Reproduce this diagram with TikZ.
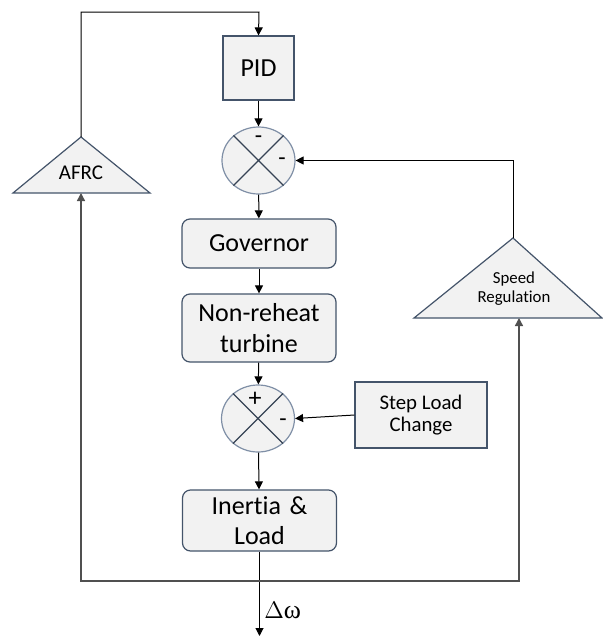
\documentclass[tikz,border=0pt]{standalone}
\usepackage{fontspec}
\setmainfont{Carlito}[Ligatures=NoCommon]
\newfontfamily\greekfont{Liberation Serif}
\usetikzlibrary{arrows.meta,shapes.geometric,calc}
\definecolor{boxfill}{HTML}{F2F2F2}
\definecolor{boxline}{HTML}{44546A}
\definecolor{circline}{HTML}{7F8FA6}
\definecolor{fbline}{HTML}{505050}
\tikzset{
  blk/.style={draw=boxline, fill=boxfill, line width=0.6pt, align=center, inner sep=1pt, font=\fontsize{13}{15.5}\selectfont},
  sqbox/.style={blk},
  rbox/.style={blk, rounded corners=4pt, minimum width=77pt},
  sumnode/.style={draw=circline, fill=boxfill, line width=0.6pt, ellipse, minimum width=36.5pt, minimum height=33.5pt, inner sep=0pt},
  tri/.style={draw=boxline, fill=boxfill, line width=0.6pt},
  arr/.style={-{Triangle[length=4pt,width=4pt]}, line width=0.5pt, draw=black},
  fb/.style={line width=0.7pt, draw=fbline},
  fbarr/.style={fb, -{Triangle[length=4pt,width=4pt]}},
  sign/.style={font=\fontsize{12}{12}\selectfont, inner sep=0pt}
}
\begin{document}
\begin{tikzpicture}[x=0.5pt,y=-0.5pt]
\useasboundingbox (0,0) rectangle (603,638);
% blocks
\node[sqbox, minimum width=35.5pt, minimum height=32pt] (pid) at (258.5,68) {PID};
\node[sumnode] (s1) at (258.5,160.5) {};
\draw[boxline!80!black, line width=0.6pt] (s1.45) -- (s1.225) (s1.135) -- (s1.315);
\node[sign] at (258.5,140) {-};
\node[sign] at (282,162) {-};
\node[rbox, minimum height=24.5pt] (gov) at (259,243.5) {Governor};
\node[rbox, minimum height=34pt, text width=75pt] (tur) at (259,328) {Non-reheat\\ turbine};
\node[sumnode] (s2) at (258,418.5) {};
\draw[boxline!80!black, line width=0.6pt] (s2.45) -- (s2.225) (s2.135) -- (s2.315);
\node[sign, font=\fontsize{13}{13}\selectfont] at (255,399) {+};
\node[sign] at (283,423) {-};
\node[rbox, minimum height=30.5pt, text width=75pt] (iner) at (259.5,520.5) {Inertia \&\\[-0.5pt] Load};
\node[sqbox, minimum width=66pt, minimum height=33pt, font=\fontsize{10.4}{11}\selectfont] (step) at (421,415) {Step Load\\ Change};
% triangles
\coordinate (afrcTop) at (81,137);
\coordinate (afrcBase) at (81,193);
\draw[tri] (afrcTop) -- (150,193) -- (13,193) -- cycle;
\node[font=\fontsize{10.5}{12}\selectfont] (afrc) at (81,173) {AFRC};
\coordinate (srTop) at (513,238);
\coordinate (srBase) at (519,318);
\draw[tri] (srTop) -- (602,318) -- (414,318) -- cycle;
\node[font=\fontsize{8.4}{9.5}\selectfont, align=center] (sr) at (514,289) {Speed\\ Regulation};
% forward connectors
\draw[arr] (pid) -- (s1);
\draw[arr] (s1) -- (gov);
\draw[arr] (gov) -- (tur);
\draw[arr] (tur) -- (s2);
\draw[arr] (s2) -- (iner);
\draw[arr] (step.west) -- (s2.east);
\coordinate (out) at (259.5,636);
\draw[arr] (iner) -- (out);
\node[anchor=west, inner sep=0pt, font=\greekfont\fontsize{13}{14}\selectfont] (dw) at (264,610) {$\Delta$ω};
% feedback
\coordinate (split) at (259.5,581);
\draw[fbarr] (split) -| (afrcBase);
\draw[fbarr] (split) -| (srBase);
\draw[arr] (afrcTop) |- (259,12) -- (pid.north);
\draw[arr] (srTop) |- (s1.east);
\end{tikzpicture}
\end{document}
